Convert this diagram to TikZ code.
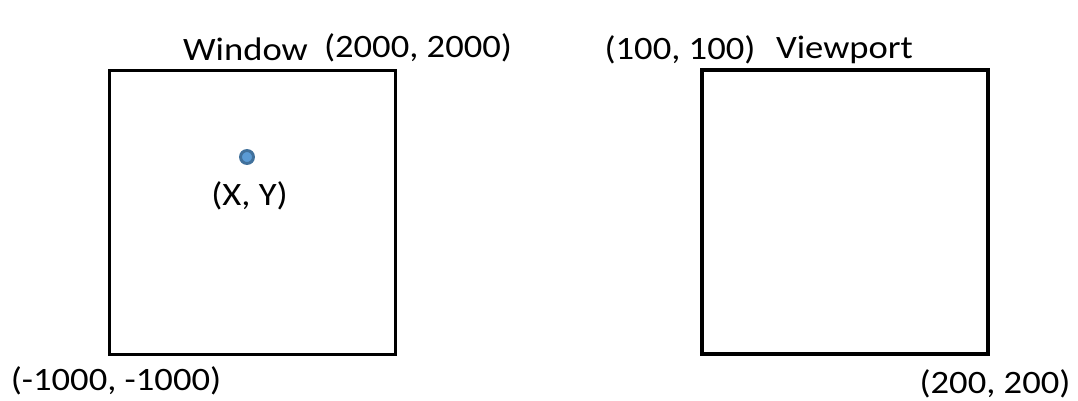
\documentclass[tikz,border=0pt]{standalone}
\usepackage{fontspec}
\setmainfont{Carlito}
\definecolor{dotfill}{HTML}{5B9BD5}
\definecolor{dotline}{HTML}{41719C}
\begin{document}
\begin{tikzpicture}[x=0.75pt,y=-0.75pt,
  lbl/.style={inner sep=0pt,anchor=base,font=\fontsize{24.5}{29}\selectfont,xscale=1.12},
  frame/.style={draw=black,line width=2.7pt}]
\useasboundingbox (0,0) rectangle (1078,400);
\node[frame,minimum width=286*0.75pt,minimum height=284*0.75pt,inner sep=0pt] (win) at (252.5,212.5) {};
\node[frame,minimum width=286*0.75pt,minimum height=284*0.75pt,inner sep=0pt] (vp) at (845,212) {};
\node[circle,draw=dotline,fill=dotfill,line width=2.2pt,minimum size=13*0.75pt,inner sep=0pt] (pt) at (247,157) {};
\node[lbl] (wl) at (245.5,60) {Window};
\node[lbl] (wtr) at (418,57.5) {(2000, 2000)};
\node[lbl] (xy) at (249.5,205) {(X, Y)};
\node[lbl] (wbl) at (116,390) {(-1000, -1000)};
\node[lbl] (vtl) at (680,59) {(100, 100)};
\node[lbl] (vl) at (844.5,58) {Viewport};
\node[lbl] (vbr) at (995,393) {(200, 200)};
\end{tikzpicture}
\end{document}
